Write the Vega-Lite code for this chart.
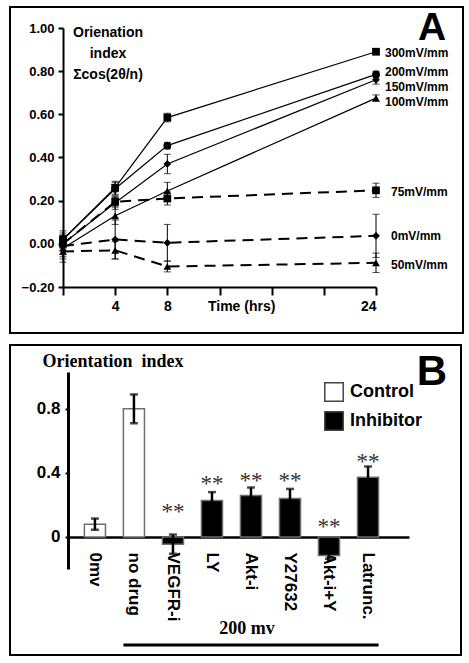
{
  "$schema": "https://vega.github.io/schema/vega-lite/v6.json",
  "background": "white",
  "padding": {"left": 9, "top": 6, "right": 0, "bottom": 0},
  "spacing": 10,
  "config": {
    "view": {"stroke": "black", "strokeWidth": 2},
    "font": "Liberation Sans",
    "axis": {"labelColor": "black", "domainColor": "black", "tickColor": "black", "grid": false, "labelFont": "Liberation Sans"}
  },
  "datasets": {
    "timecourse": [
      {"series": "300mV/mm", "mv": 300, "t": 0, "v": 0.02, "err": 0.02},
      {"series": "300mV/mm", "mv": 300, "t": 4, "v": 0.26, "err": 0.03},
      {"series": "300mV/mm", "mv": 300, "t": 8, "v": 0.585, "err": 0.02},
      {"series": "300mV/mm", "mv": 300, "t": 24, "v": 0.89, "err": 0.01},
      {"series": "200mV/mm", "mv": 200, "t": 0, "v": 0.02, "err": 0.04},
      {"series": "200mV/mm", "mv": 200, "t": 4, "v": 0.255, "err": 0.03},
      {"series": "200mV/mm", "mv": 200, "t": 8, "v": 0.455, "err": 0.015},
      {"series": "200mV/mm", "mv": 200, "t": 24, "v": 0.785, "err": 0.015},
      {"series": "150mV/mm", "mv": 150, "t": 0, "v": 0.0, "err": 0.05},
      {"series": "150mV/mm", "mv": 150, "t": 4, "v": 0.19, "err": 0.03},
      {"series": "150mV/mm", "mv": 150, "t": 8, "v": 0.37, "err": 0.045},
      {"series": "150mV/mm", "mv": 150, "t": 24, "v": 0.76, "err": 0.02},
      {"series": "100mV/mm", "mv": 100, "t": 0, "v": -0.02, "err": 0.05},
      {"series": "100mV/mm", "mv": 100, "t": 4, "v": 0.13, "err": 0.04},
      {"series": "100mV/mm", "mv": 100, "t": 8, "v": 0.245, "err": 0.04},
      {"series": "100mV/mm", "mv": 100, "t": 24, "v": 0.675, "err": 0.015},
      {"series": "75mV/mm", "mv": 75, "t": 0, "v": 0.0, "err": 0.03},
      {"series": "75mV/mm", "mv": 75, "t": 4, "v": 0.195, "err": 0.02},
      {"series": "75mV/mm", "mv": 75, "t": 8, "v": 0.21, "err": 0.03},
      {"series": "75mV/mm", "mv": 75, "t": 24, "v": 0.248, "err": 0.033},
      {"series": "0mV/mm", "mv": 0, "t": 0, "v": -0.01, "err": 0.05},
      {"series": "0mV/mm", "mv": 0, "t": 4, "v": 0.02, "err": 0.09},
      {"series": "0mV/mm", "mv": 0, "t": 8, "v": 0.005, "err": 0.085},
      {"series": "0mV/mm", "mv": 0, "t": 24, "v": 0.037, "err": 0.1},
      {"series": "50mV/mm", "mv": 50, "t": 0, "v": -0.035, "err": 0.05},
      {"series": "50mV/mm", "mv": 50, "t": 4, "v": -0.03, "err": 0.04},
      {"series": "50mV/mm", "mv": 50, "t": 8, "v": -0.105, "err": 0.025},
      {"series": "50mV/mm", "mv": 50, "t": 24, "v": -0.088, "err": 0.045}
    ],
    "curveLabels": [
      {"label": "300mV/mm", "mv": 300, "lv": 0.884},
      {"label": "200mV/mm", "mv": 200, "lv": 0.796},
      {"label": "150mV/mm", "mv": 150, "lv": 0.727},
      {"label": "100mV/mm", "mv": 100, "lv": 0.657},
      {"label": "75mV/mm", "mv": 75, "lv": 0.24},
      {"label": "0mV/mm", "mv": 0, "lv": 0.036},
      {"label": "50mV/mm", "mv": 50, "lv": -0.098}
    ],
    "inhibitors": [
      {"treatment": "0mv", "group": "Control", "value": 0.08, "err": 0.035, "star_v": null},
      {"treatment": "no drug", "group": "Control", "value": 0.8, "err": 0.09, "star_v": null},
      {"treatment": "VEGFR-i", "group": "Inhibitor", "value": -0.045, "err": 0.06, "star_v": 0.155},
      {"treatment": "LY", "group": "Inhibitor", "value": 0.227, "err": 0.053, "star_v": 0.33},
      {"treatment": "Akt-i", "group": "Inhibitor", "value": 0.259, "err": 0.05, "star_v": 0.35},
      {"treatment": "Y27632", "group": "Inhibitor", "value": 0.24, "err": 0.06, "star_v": 0.35},
      {"treatment": "Akt-i+Y", "group": "Inhibitor", "value": -0.116, "err": 0.02, "star_v": 0.06},
      {"treatment": "Latrunc.", "group": "Inhibitor", "value": 0.373, "err": 0.067, "star_v": 0.465}
    ]
  },
  "vconcat": [
    {
      "width": 453,
      "height": 326,
      "data": {"name": "timecourse"},
      "layer": [
        {
          "transform": [{"filter": "datum.mv >= 100"}],
          "mark": {"type": "line", "color": "black", "strokeWidth": 1.2},
          "encoding": {
            "x": {
              "field": "t", "type": "quantitative",
              "scale": {"domain": [0, 24], "range": [53, 366], "nice": false, "zero": false},
              "axis": {
                "title": null, "orient": "bottom", "offset": -46,
                "values": [0, 4, 8, 12, 16, 20, 24],
                "labelExpr": "(datum.value == 4 || datum.value == 8 || datum.value == 24) ? datum.label : ''",
                "tickSize": 8, "tickWidth": 2, "domainWidth": 2,
                "labelFontSize": 14, "labelFontWeight": "bold", "labelPadding": 4
              }
            },
            "y": {
              "field": "v", "type": "quantitative",
              "scale": {"domain": [-0.2, 1.0], "range": [280, 21], "nice": false, "zero": false},
              "axis": {
                "title": null, "orient": "left", "offset": -53,
                "values": [-0.2, 0, 0.2, 0.4, 0.6, 0.8, 1.0], "format": ".2f",
                "tickSize": 5, "tickWidth": 2, "domainWidth": 2,
                "labelFontSize": 13, "labelFontWeight": "bold", "labelPadding": 4
              }
            },
            "detail": {"field": "series"}
          }
        },
        {
          "transform": [{"filter": "datum.mv < 100"}],
          "mark": {"type": "line", "color": "black", "strokeWidth": 2, "strokeDash": [11, 7]},
          "encoding": {
            "x": {"field": "t", "type": "quantitative"},
            "y": {"field": "v", "type": "quantitative"},
            "detail": {"field": "series"}
          }
        },
        {
          "mark": {"type": "errorbar", "color": "black", "ticks": {"size": 7}, "thickness": 1},
          "encoding": {
            "x": {"field": "t", "type": "quantitative"},
            "y": {"field": "v", "type": "quantitative"},
            "yError": {"field": "err"}
          }
        },
        {
          "mark": {"type": "point", "filled": true, "color": "black", "opacity": 1, "size": 60},
          "encoding": {
            "x": {"field": "t", "type": "quantitative"},
            "y": {"field": "v", "type": "quantitative"},
            "shape": {
              "field": "series", "type": "nominal", "legend": null,
              "scale": {
                "domain": ["300mV/mm", "200mV/mm", "150mV/mm", "100mV/mm", "75mV/mm", "0mV/mm", "50mV/mm"],
                "range": ["square", "circle", "diamond", "triangle-up", "square", "diamond", "triangle-up"]
              }
            }
          }
        },
        {
          "data": {"name": "curveLabels"},
          "transform": [{"filter": "datum.mv >= 100"}],
          "mark": {"type": "text", "align": "left", "baseline": "middle", "dx": 9, "fontSize": 12, "fontWeight": "bold", "color": "black"},
          "encoding": {
            "x": {"datum": 24},
            "y": {"field": "lv", "type": "quantitative"},
            "text": {"field": "label"}
          }
        },
        {
          "data": {"name": "curveLabels"},
          "transform": [{"filter": "datum.mv < 100"}],
          "mark": {"type": "text", "align": "left", "baseline": "middle", "dx": 15, "fontSize": 12, "fontWeight": "bold", "color": "black"},
          "encoding": {
            "x": {"datum": 24},
            "y": {"field": "lv", "type": "quantitative"},
            "text": {"field": "label"}
          }
        },
        {
          "data": {"values": [{}]},
          "mark": {"type": "text", "text": ["Orienation", "index", "Σcos(2θ/n)"], "align": "center", "baseline": "top", "lineHeight": 21, "fontSize": 14, "fontWeight": "bold", "color": "black"},
          "encoding": {"x": {"datum": 3.45}, "y": {"datum": 1.007}}
        },
        {
          "data": {"values": [{}]},
          "mark": {"type": "text", "text": "Time (hrs)", "align": "center", "baseline": "middle", "fontSize": 14, "fontWeight": "bold", "color": "black"},
          "encoding": {"x": {"datum": 13.7}, "y": {"datum": -0.293}}
        },
        {
          "data": {"values": [{}]},
          "mark": {"type": "text", "text": "A", "align": "center", "baseline": "middle", "fontSize": 39, "fontWeight": "bold", "color": "black"},
          "encoding": {"x": {"datum": 28.3}, "y": {"datum": 1.0}}
        }
      ]
    },
    {
      "width": 451,
      "height": 310,
      "data": {"name": "inhibitors"},
      "layer": [
        {
          "mark": {"type": "bar", "stroke": "#6e6e6e", "strokeWidth": 1.5},
          "encoding": {
            "x": {
              "field": "treatment", "type": "nominal", "sort": null,
              "scale": {
                "domain": ["0mv", "no drug", "VEGFR-i", "LY", "Akt-i", "Y27632", "Akt-i+Y", "Latrunc."],
                "range": [58, 399], "paddingInner": 0.46, "paddingOuter": 0.6, "align": 0.35
              },
              "axis": {
                "title": null, "orient": "bottom", "offset": -118,
                "labelAngle": 90, "labelAlign": "left", "labelBaseline": "middle",
                "labelFontSize": 17, "labelFontWeight": "bold", "ticks": false,
                "labelPadding": 15, "domainWidth": 2.5
              }
            },
            "y": {
              "field": "value", "type": "quantitative",
              "scale": {"domain": [-0.2, 1.03], "range": [224, 27], "nice": false},
              "axis": {
                "title": null, "orient": "left", "offset": -58,
                "values": [0, 0.4, 0.8], "format": "~g",
                "labelFontSize": 17, "labelFontWeight": "bold",
                "tickSize": 3, "tickWidth": 2, "domainWidth": 3, "labelPadding": 5
              }
            },
            "fill": {
              "field": "group", "type": "nominal",
              "scale": {"domain": ["Control", "Inhibitor"], "range": ["white", "black"]},
              "legend": {
                "orient": "none", "legendX": 314, "legendY": 375, "title": null,
                "symbolType": "square", "symbolSize": 340, "symbolStrokeColor": "#444", "symbolStrokeWidth": 1.5,
                "labelFontSize": 18, "labelFontWeight": "bold", "labelFont": "Liberation Sans", "labelColor": "black",
                "rowPadding": 3, "labelOffset": 6, "padding": 0
              }
            }
          }
        },
        {
          "mark": {"type": "errorbar", "color": "black", "ticks": {"size": 8}, "thickness": 2.5},
          "encoding": {
            "x": {"field": "treatment", "type": "nominal"},
            "y": {"field": "value", "type": "quantitative"},
            "yError": {"field": "err"}
          }
        },
        {
          "transform": [{"filter": "datum.star_v != null"}],
          "mark": {"type": "text", "text": "**", "font": "Liberation Serif", "fontSize": 23, "color": "#333", "align": "center", "baseline": "middle"},
          "encoding": {
            "x": {"field": "treatment", "type": "nominal"},
            "y": {"field": "star_v", "type": "quantitative"}
          }
        },
        {
          "data": {"values": [{}]},
          "mark": {"type": "text", "text": "Orientation\u00a0\u00a0index", "font": "Liberation Serif", "fontWeight": "bold", "fontSize": 18, "align": "center", "baseline": "middle", "dx": 18, "color": "black"},
          "encoding": {"x": {"datum": "0mv"}, "y": {"datum": 1.092}}
        },
        {
          "data": {"values": [{}]},
          "mark": {"type": "text", "text": "B", "fontWeight": "bold", "fontSize": 42, "align": "center", "baseline": "middle", "dx": 64, "color": "black"},
          "encoding": {"x": {"datum": "Latrunc."}, "y": {"datum": 1.028}}
        },
        {
          "data": {"values": [{}]},
          "mark": {"type": "text", "text": "200 mv", "font": "Liberation Serif", "fontWeight": "bold", "fontSize": 18, "align": "center", "baseline": "middle", "dx": -4, "color": "black"},
          "encoding": {"x": {"datum": "Akt-i"}, "y": {"datum": -0.575}}
        },
        {
          "data": {"values": [{}]},
          "mark": {"type": "rule", "strokeWidth": 3, "color": "black"},
          "encoding": {
            "x": {"datum": "no drug", "bandPosition": 0},
            "x2": {"datum": "Latrunc.", "bandPosition": 1},
            "y": {"datum": -0.675}
          }
        }
      ]
    }
  ]
}
